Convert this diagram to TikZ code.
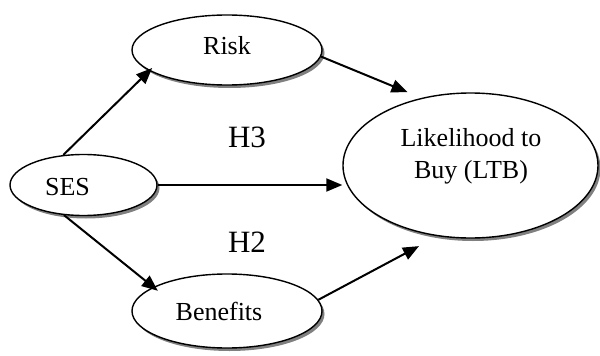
\documentclass[tikz,border=0pt]{standalone}
\usepackage{fontspec}
\setmainfont{Liberation Serif}
\usetikzlibrary{arrows.meta,shapes.geometric,shadows}
\begin{document}
\begin{tikzpicture}[x=1pt,y=-1pt,
  ell/.style={ellipse,draw=black,line width=1.4pt,fill=white,inner sep=0pt,
    drop shadow={shadow xshift=2.5pt,shadow yshift=-3pt,fill=black!50,opacity=1}},
  lbl/.style={anchor=base,inner sep=0pt,font=\fontsize{26}{30}\selectfont},
  hlbl/.style={anchor=base,inner sep=0pt,font=\fontsize{31}{36}\selectfont},
  arr/.style={line width=2pt,-{Triangle[length=16pt,width=13pt]}}]
\useasboundingbox (0,0) rectangle (600,356);
% ellipses
\node[ell,minimum width=190pt,minimum height=70pt] (risk) at (227,50) {};
\node[ell,minimum width=147pt,minimum height=61pt] (ses) at (83.5,185) {};
\node[ell,minimum width=190pt,minimum height=74pt] (ben) at (227,311) {};
\node[ell,minimum width=255pt,minimum height=145pt] (ltb) at (470.5,165.5) {};
% texts
\node[lbl] (risktxt) at (227,54) {Risk};
\node[lbl] (sestxt) at (67.5,195) {SES};
\node[lbl] (bentxt) at (219,320) {Benefits};
\node[lbl] (ltbtxta) at (471,146) {Likelihood to};
\node[lbl] (ltbtxtb) at (471,178) {Buy (LTB)};
\node[hlbl] (hthree) at (247,147) {H3};
\node[hlbl] (htwo) at (247,252) {H2};
% connectors
\draw[arr,shorten >=-4pt] (ses.124) -- (risk.195);
\draw[arr,shorten >=15pt] (risk.356) -- (ltb.126.8);
\draw[arr] (ses.east) -- (ses.east -| ltb.west);
\draw[arr,shorten >=-6pt] (ses.237.6) -- (ben.162);
\draw[arr,shorten >=21pt] (ben.7.3) -- (ltb.245.1);
\end{tikzpicture}
\end{document}
